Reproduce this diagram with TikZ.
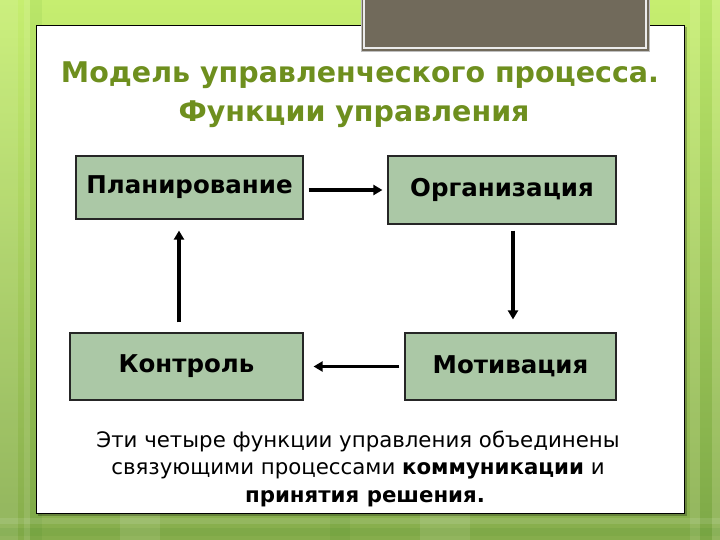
\documentclass[tikz,border=0pt]{standalone}
\usepackage{fontspec}
\setmainfont{DejaVu Sans}
\usetikzlibrary{arrows.meta}
\definecolor{titlegreen}{HTML}{6E8F1E}
\definecolor{boxfill}{HTML}{ABC8A6}
\definecolor{tabgray}{HTML}{716A5B}
\definecolor{bgtop}{HTML}{C6EE70}
\definecolor{bgbot}{HTML}{86AD4C}
\begin{document}
\begin{tikzpicture}[x=1pt,y=-1pt,
  funcbox/.style={draw=black!85,line width=1.2pt,fill=boxfill,minimum height=64pt,inner sep=0pt,font=\fontsize{24.5}{28}\selectfont\bfseries},
  flow/.style={line width=3.2pt,-{Triangle[length=9pt,width=10pt]},shorten >=0pt},
  stripe/.style={fill=white,opacity=0.10,draw=none},
  dstripe/.style={fill=black!60!green,opacity=0.06,draw=none}]
\useasboundingbox (0,0) rectangle (720,540);
% background
\shade[top color=bgtop,bottom color=bgbot] (0,0) rectangle (720,540);
\fill[stripe] (0,0) rectangle (18,540);
\fill[stripe] (24,0) rectangle (30,540);
\fill[dstripe] (30,0) rectangle (42,540);
\fill[stripe] (690,0) rectangle (700,540);
\fill[dstripe] (700,0) rectangle (712,540);
\fill[stripe] (712,0) rectangle (720,540);
\fill[stripe] (0,518) rectangle (720,524);
\fill[dstripe] (0,528) rectangle (720,536);
\fill[stripe] (120,513) rectangle (160,540);
\fill[dstripe] (330,513) rectangle (350,540);
\fill[stripe] (420,513) rectangle (470,540);
% panel
\fill[black,opacity=0.25] (38,27) rectangle (687,516);
\draw[fill=white,line width=0.9pt] (36,25) rectangle (684,513);
% tab
\draw[fill=tabgray,draw=black!25,line width=0.6pt] (361,-2) rectangle (649,51);
\draw[draw=white!92!black,line width=2.6pt] (364,-3) rectangle (646,48);
% title
\node[anchor=base,text=titlegreen,font=\fontsize{28.5}{32}\selectfont\bfseries] (t1) at (360,83) {Модель управленческого процесса.};
\node[anchor=base,text=titlegreen,font=\fontsize{28.5}{32}\selectfont\bfseries] (t2) at (354,122) {Функции управления};
% boxes
\node[funcbox,minimum width=227pt,minimum height=63pt] (plan) at (189.5,187.5) {Планирование};
\node[funcbox,minimum width=228pt,minimum height=68pt] (org) at (502,190) {Организация};
\node[funcbox,minimum width=211pt,minimum height=67pt] (motiv) at (510.5,366.5) {Мотивация};
\node[funcbox,minimum width=233pt,minimum height=67pt] (ctrl) at (186.5,366.5) {Контроль};
% arrows
\draw[flow] ([xshift=5pt]plan.east |- org.west) -- ([xshift=-5pt]org.west);
\draw[flow] ([xshift=11pt,yshift=-6pt]org.south) -- ([xshift=2.5pt,yshift=13pt]motiv.north);
\draw[flow] ([xshift=-5pt]motiv.west) -- ([xshift=10pt]ctrl.east);
\draw[flow] ([xshift=-7.5pt,yshift=10pt]ctrl.north) -- ([xshift=-10.5pt,yshift=-11pt]plan.south);
% bottom text
\node[anchor=base,font=\fontsize{21.3}{25}\selectfont] (b1) at (358,447) {Эти четыре функции управления объединены};
\node[anchor=base,font=\fontsize{21.3}{25}\selectfont] (b2) at (358,474) {связующими процессами \textbf{коммуникации} и};
\node[anchor=base,font=\fontsize{21.3}{25}\selectfont\bfseries] (b3) at (365,502) {принятия решения.};
\end{tikzpicture}
\end{document}
